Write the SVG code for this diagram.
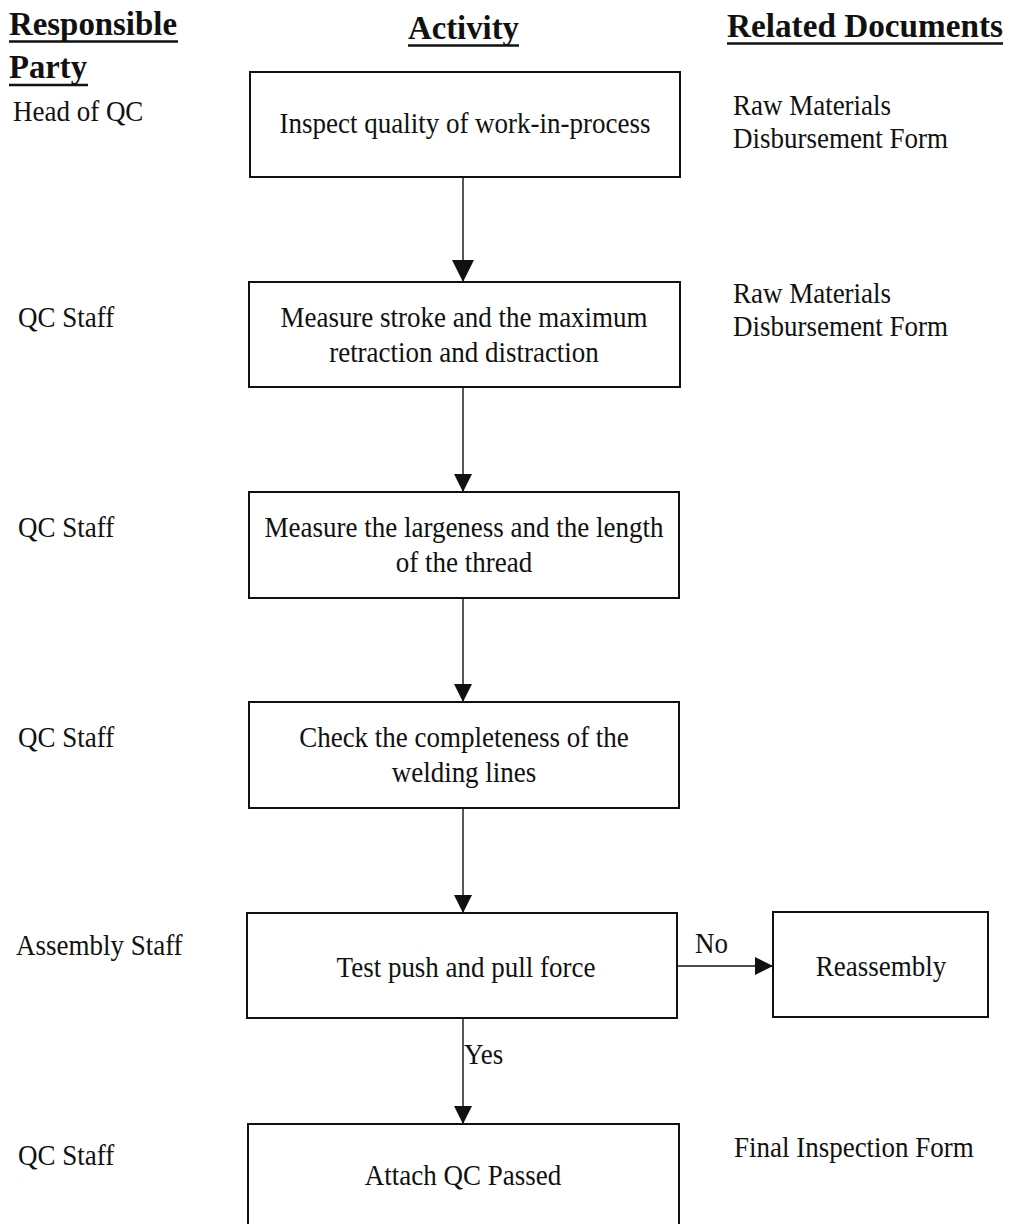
<svg xmlns="http://www.w3.org/2000/svg" width="1009" height="1224" viewBox="0 0 1009 1224">
  <style>
    .head { font-family: "Liberation Serif", "Times New Roman", serif; font-weight: bold; font-size: 34px; fill: #111; }
    .txt { font-family: "Liberation Serif", "Times New Roman", serif; font-size: 30px; fill: #111; }
    .mid { text-anchor: middle; }
    .box { fill: #fff; stroke: #111; stroke-width: 2; }
    .uline { stroke: #111; stroke-width: 2.5; }
    .conn { stroke: #111; stroke-width: 1.4; fill: none; }
  </style>
  <defs>
    <!-- filled triangular heads, drawn pointing along +x and turned with the line -->
    <marker id="arrowBig" viewBox="0 0 22 22" refX="22" refY="11" markerWidth="22" markerHeight="22" markerUnits="userSpaceOnUse" orient="auto">
      <path d="M0,0 L22,11 L0,22 Z" fill="#111"/>
    </marker>
    <marker id="arrow" viewBox="0 0 18 18" refX="18" refY="9" markerWidth="18" markerHeight="18" markerUnits="userSpaceOnUse" orient="auto">
      <path d="M0,0 L18,9 L0,18 Z" fill="#111"/>
    </marker>
  </defs>

  <rect width="1009" height="1224" fill="#fff"/>

  <!-- Column headings -->
  <g id="headings">
    <text class="head" x="9" y="35" textLength="168" lengthAdjust="spacingAndGlyphs">Responsible</text>
    <line class="uline" x1="9" y1="41.5" x2="178" y2="41.5"/>
    <text class="head" x="9" y="78" textLength="78" lengthAdjust="spacingAndGlyphs">Party</text>
    <line class="uline" x1="9" y1="85" x2="88" y2="85"/>
    <text class="head" x="408" y="39" textLength="111" lengthAdjust="spacingAndGlyphs">Activity</text>
    <line class="uline" x1="408" y1="45.5" x2="519" y2="45.5"/>
    <text class="head" x="727" y="37" textLength="276" lengthAdjust="spacingAndGlyphs">Related Documents</text>
    <line class="uline" x1="727" y1="43.5" x2="1003" y2="43.5"/>
  </g>

  <!-- Responsible party labels -->
  <g id="parties">
    <text class="txt" transform="translate(13,121) scale(0.9,1)">Head of QC</text>
    <text class="txt" transform="translate(18,327) scale(0.9,1)">QC Staff</text>
    <text class="txt" transform="translate(18,537) scale(0.9,1)">QC Staff</text>
    <text class="txt" transform="translate(18,747) scale(0.9,1)">QC Staff</text>
    <text class="txt" transform="translate(16,955) scale(0.9,1)">Assembly Staff</text>
    <text class="txt" transform="translate(18,1165) scale(0.9,1)">QC Staff</text>
  </g>

  <!-- Related documents -->
  <g id="documents">
    <text class="txt" transform="translate(733,115) scale(0.9,1)">Raw Materials</text>
    <text class="txt" transform="translate(733,148) scale(0.9,1)">Disbursement Form</text>
    <text class="txt" transform="translate(733,303) scale(0.9,1)">Raw Materials</text>
    <text class="txt" transform="translate(733,336) scale(0.9,1)">Disbursement Form</text>
    <text class="txt" transform="translate(734,1157) scale(0.9,1)">Final Inspection Form</text>
  </g>

  <!-- Process steps -->
  <g id="step1">
    <rect class="box" x="250" y="72" width="430" height="105"/>
    <text class="txt mid" transform="translate(465,133) scale(0.9,1)">Inspect quality of work-in-process</text>
  </g>
  <g id="step2">
    <rect class="box" x="249" y="282" width="431" height="105"/>
    <text class="txt mid" transform="translate(464,327) scale(0.9,1)">Measure stroke and the maximum</text>
    <text class="txt mid" transform="translate(464,362) scale(0.9,1)">retraction and distraction</text>
  </g>
  <g id="step3">
    <rect class="box" x="249" y="492" width="430" height="106"/>
    <text class="txt mid" transform="translate(464,537) scale(0.9,1)">Measure the largeness and the length</text>
    <text class="txt mid" transform="translate(464,572) scale(0.9,1)">of the thread</text>
  </g>
  <g id="step4">
    <rect class="box" x="249" y="702" width="430" height="106"/>
    <text class="txt mid" transform="translate(464,747) scale(0.9,1)">Check the completeness of the</text>
    <text class="txt mid" transform="translate(464,782) scale(0.9,1)">welding lines</text>
  </g>
  <g id="step5">
    <rect class="box" x="247" y="913" width="430" height="105"/>
    <text class="txt mid" transform="translate(466,977) scale(0.9,1)">Test push and pull force</text>
  </g>
  <g id="reassembly">
    <rect class="box" x="773" y="912" width="215" height="105"/>
    <text class="txt mid" transform="translate(881,976) scale(0.9,1)">Reassembly</text>
  </g>
  <g id="step6">
    <rect class="box" x="248" y="1124" width="431" height="110"/>
    <text class="txt mid" transform="translate(463,1185) scale(0.9,1)">Attach QC Passed</text>
  </g>

  <!-- Connectors -->
  <g id="connectors">
    <line class="conn" x1="463" y1="177" x2="463" y2="282" stroke-width="2.2" marker-end="url(#arrowBig)"/>
    <line class="conn" x1="463" y1="387" x2="463" y2="492" marker-end="url(#arrow)"/>
    <line class="conn" x1="463" y1="598" x2="463" y2="702" marker-end="url(#arrow)"/>
    <line class="conn" x1="463" y1="808" x2="463" y2="913" marker-end="url(#arrow)"/>
    <line class="conn" x1="463" y1="1018" x2="463" y2="1124" marker-end="url(#arrow)"/>
    <line class="conn" x1="677" y1="966" x2="773" y2="966" marker-end="url(#arrow)"/>
    <text class="txt" transform="translate(464,1064) scale(0.9,1)">Yes</text>
    <text class="txt" transform="translate(695,953) scale(0.9,1)">No</text>
  </g>
</svg>
